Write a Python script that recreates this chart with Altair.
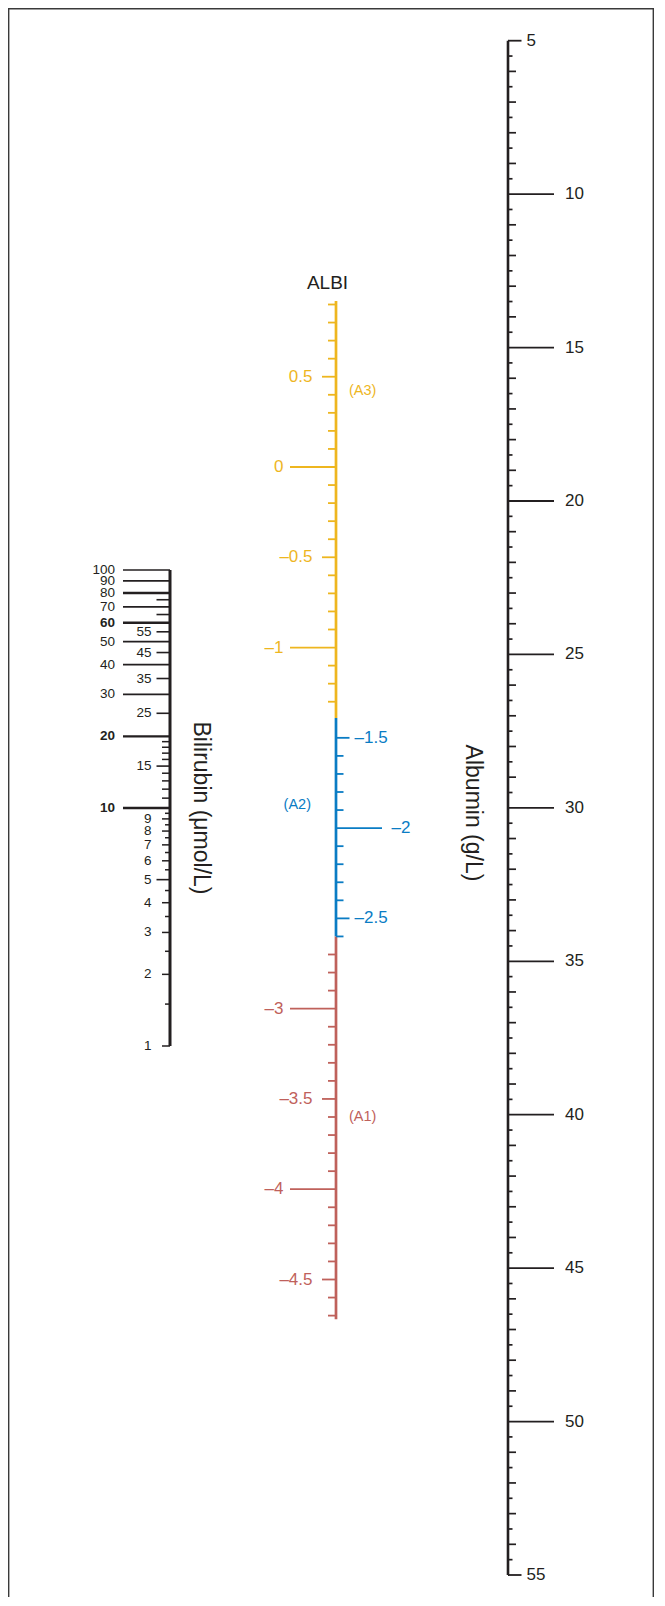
import altair as alt
import pandas as pd

FONT = "Liberation Sans"
INK = "#231F20"
YEL = "#EEB61F"
BLU = "#0A7CC4"
RED = "#BF615B"
FRAME = "#3A3A3A"

W, H = 646, 1589

# ---------------- Albumin (g/L), linear scale ----------------
alb_domain = [5, 55]
alb_major = [10, 15, 20, 25, 30, 35, 40, 45, 50]
alb_end = [5, 55]
alb_int = [v for v in range(6, 55) if v % 5]
alb_half = [v + 0.5 for v in range(5, 55)]
alb_major_labels = [10, 15, 20, 25, 30, 35, 40, 45, 50]
alb_end_labels = [5, 55]

# ---------------- ALBI grade scale ----------------
albi_yel_span = [0.92, -1.39]
albi_blu_span = [-1.39, -2.60]
albi_red_span = [-2.60, -4.72]
albi_yel_minor = [0.9, 0.8, 0.7, 0.6, 0.4, 0.3, 0.2, 0.1, -0.1, -0.2, -0.3, -0.4,
                  -0.6, -0.7, -0.8, -0.9, -1.1, -1.2, -1.3]
albi_yel_half = [0.5, -0.5]
albi_yel_int = [0, -1]
albi_blu_minor = [-1.6, -1.7, -1.8, -1.9, -2.1, -2.2, -2.3, -2.4, -2.6]
albi_blu_half = [-1.5, -2.5]
albi_blu_int = [-2]
albi_red_minor = [-2.7, -2.8, -2.9, -3.1, -3.2, -3.3, -3.4, -3.6, -3.7, -3.8, -3.9,
                  -4.1, -4.2, -4.3, -4.4, -4.6, -4.7]
albi_red_half = [-3.5, -4.5]
albi_red_int = [-3, -4]
grade_names = ["(A3)", "(A2)", "(A1)"]
grade_pos = [0.42, -1.87, -3.60]

# ---------------- Bilirubin (µmol/L), log scale ----------------
bil_domain = [1, 100]
bil_long = [30, 40, 50, 70, 90, 100]
bil_long_bold = [10, 20, 60, 80]
bil_mid = [5, 15, 25, 35, 45, 55, 65, 75]
bil_short = [1, 2, 3, 4, 6, 7, 8, 9, 11, 12, 13, 14, 16, 17, 18, 19]
bil_half = [1.5, 2.5, 3.5, 4.5, 5.5, 6.5, 7.5, 8.5, 9.5]
bil_long_labels = [30, 40, 50, 70, 80, 90, 100]
bil_bold_labels = [10, 20, 60]
bil_small_labels = [1, 2, 3, 4, 5, 6, 7, 8, 9, 15, 25, 35, 45, 55]

ALB = alt.Scale(domain=alb_domain, range=[32.7, 1567], zero=False, nice=False)
ALBI = alt.Scale(domain=[0, -4.5], range=[459, 1271.5], zero=False, nice=False)
BIL = alt.Scale(type="log", domain=bil_domain, range=[1038, 562], nice=False)


def fmt(v):
    s = f"{abs(v):g}"
    return ("\u2013" + s) if v < 0 else s


def rules(vals, scale, x0, x1, color, sw):
    return alt.Chart(pd.DataFrame({"v": vals})).mark_rule(
        color=color, strokeWidth=sw, strokeCap="butt"
    ).encode(y=alt.Y("v:Q", scale=scale, axis=None), x=alt.value(x0), x2=alt.value(x1))


def span(pair, scale, x, color, sw):
    return alt.Chart(pd.DataFrame({"a": [pair[0]], "b": [pair[1]]})).mark_rule(
        color=color, strokeWidth=sw, strokeCap="butt"
    ).encode(x=alt.value(x), y=alt.Y("a:Q", scale=scale, axis=None), y2="b:Q")


def labels(vals, texts, scale, x, align, color, size, weight="normal"):
    return alt.Chart(pd.DataFrame({"v": vals, "t": texts})).mark_text(
        align=align, baseline="middle", font=FONT, fontSize=size, color=color, fontWeight=weight
    ).encode(y=alt.Y("v:Q", scale=scale, axis=None), x=alt.value(x), text="t:N")


layers = []

# frame (left, top, right)
one = pd.DataFrame({"a": [0]})
layers.append(alt.Chart(one).mark_rule(color=FRAME, strokeWidth=1.4).encode(
    x=alt.value(0.7), y=alt.value(0), y2=alt.value(H)))
layers.append(alt.Chart(one).mark_rule(color=FRAME, strokeWidth=1.4).encode(
    x=alt.value(0), x2=alt.value(W), y=alt.value(0.7)))
layers.append(alt.Chart(one).mark_rule(color=FRAME, strokeWidth=1.4).encode(
    x=alt.value(W - 0.7), y=alt.value(0), y2=alt.value(H)))

# Albumin
AX = 500
layers += [
    span(alb_domain, ALB, AX, INK, 2.6),
    rules(alb_half, ALB, AX, AX + 4.5, INK, 1.7),
    rules(alb_int, ALB, AX, AX + 8, INK, 1.7),
    rules(alb_major, ALB, AX, AX + 46, INK, 1.8),
    rules(alb_end, ALB, AX, AX + 13.5, INK, 1.8),
    labels(alb_major_labels, [fmt(v) for v in alb_major_labels], ALB, 557, "left", INK, 17),
    labels(alb_end_labels, [fmt(v) for v in alb_end_labels], ALB, 518.5, "left", INK, 17),
]

# ALBI
BX = 328
layers += [
    span(albi_yel_span, ALBI, BX, YEL, 2.7),
    span(albi_blu_span, ALBI, BX, BLU, 2.7),
    span(albi_red_span, ALBI, BX, RED, 2.7),
    rules(albi_yel_minor, ALBI, BX, BX - 8, YEL, 1.8),
    rules(albi_yel_half, ALBI, BX, BX - 14, YEL, 1.8),
    rules(albi_yel_int, ALBI, BX, BX - 46, YEL, 1.8),
    rules(albi_blu_minor, ALBI, BX, BX + 7.5, BLU, 1.8),
    rules(albi_blu_half, ALBI, BX, BX + 13.5, BLU, 1.8),
    rules(albi_blu_int, ALBI, BX, BX + 46, BLU, 1.8),
    rules(albi_red_minor, ALBI, BX, BX - 8, RED, 1.8),
    rules(albi_red_half, ALBI, BX, BX - 14, RED, 1.8),
    rules(albi_red_int, ALBI, BX, BX - 46, RED, 1.8),
    labels(albi_yel_int, [fmt(v) for v in albi_yel_int], ALBI, 275.5, "right", YEL, 17),
    labels(albi_yel_half, [fmt(v) for v in albi_yel_half], ALBI, 304.5, "right", YEL, 17),
    labels(albi_blu_half, [fmt(v) for v in albi_blu_half], ALBI, 346.5, "left", BLU, 17),
    labels(albi_blu_int, [fmt(v) for v in albi_blu_int], ALBI, 383.5, "left", BLU, 17),
    labels(albi_red_int, [fmt(v) for v in albi_red_int], ALBI, 275.5, "right", RED, 17),
    labels(albi_red_half, [fmt(v) for v in albi_red_half], ALBI, 304.5, "right", RED, 17),
    labels([grade_pos[0]], [grade_names[0]], ALBI, 341, "left", YEL, 14.5),
    labels([grade_pos[1]], [grade_names[1]], ALBI, 303, "right", BLU, 14.5),
    labels([grade_pos[2]], [grade_names[2]], ALBI, 341, "left", RED, 14.5),
    alt.Chart(pd.DataFrame({"t": ["ALBI"]})).mark_text(
        align="center", baseline="middle", font=FONT, fontSize=19, color=INK
    ).encode(x=alt.value(319.5), y=alt.value(275), text="t:N"),
]

# Bilirubin
CX = 162
layers += [
    span(bil_domain, BIL, CX, INK, 3),
    rules(bil_half, BIL, CX, CX - 5, INK, 1.5),
    rules(bil_short, BIL, CX, CX - 8, INK, 1.5),
    rules(bil_mid, BIL, CX, CX - 13.5, INK, 1.6),
    rules(bil_long, BIL, CX, CX - 47, INK, 1.7),
    rules(bil_long_bold, BIL, CX, CX - 47, INK, 2.4),
    labels(bil_long_labels, [fmt(v) for v in bil_long_labels], BIL, 107, "right", INK, 13.5),
    labels(bil_bold_labels, [fmt(v) for v in bil_bold_labels], BIL, 107, "right", INK, 13.5, "bold"),
    labels(bil_small_labels, [fmt(v) for v in bil_small_labels], BIL, 143.5, "right", INK, 13.5),
]

# axis titles (rotated)
layers.append(alt.Chart(pd.DataFrame({"t": ["Bilirubin (\u03bcmol/L)"]})).mark_text(
    align="center", baseline="middle", font=FONT, fontSize=23, color=INK, angle=90
).encode(x=alt.value(193), y=alt.value(800), text="t:N"))
layers.append(alt.Chart(pd.DataFrame({"t": ["Albumin (g/L)"]})).mark_text(
    align="center", baseline="middle", font=FONT, fontSize=23, color=INK, angle=90
).encode(x=alt.value(464.5), y=alt.value(805), text="t:N"))

chart = alt.layer(*layers).resolve_scale(y="independent").properties(
    width=W, height=H, padding=0, autosize="none"
).configure_view(stroke=None).configure(background="white")

chart.save("out.html", embed_options={"renderer": "svg", "actions": False})
